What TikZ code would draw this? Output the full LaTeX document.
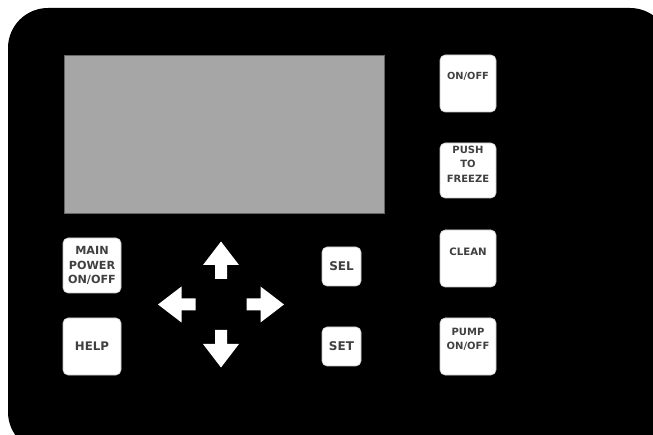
\documentclass[tikz,border=0pt]{standalone}
\usepackage{fontspec}
\setmainfont{DejaVu Sans}

\begin{document}
\begin{tikzpicture}[x=1pt, y=-1pt,
    key/.style={draw=gray!45, fill=white, rounded corners=5pt, line width=0.6pt, inner sep=0pt},
    keytext/.style={font={\bfseries\fontsize{#1}{14.5}\selectfont}, text=black!75, align=center, inner sep=0pt},
  ]
  \useasboundingbox (0,0) rectangle (653,435);
  % panel
  \fill[black, rounded corners=40pt] (8,8) rectangle (670,452);
  \node[draw=black!60, fill=black!35, line width=0.8pt, minimum width=320, minimum height=158, inner sep=0pt] (screen) at (224,134) {};

  % right column
  \node[key, minimum width=56, minimum height=57] (onoff) at (468,83.5) {};
  \node[keytext=9.8] (onoff-t) at ([yshift=7]onoff.center) {ON/OFF};
  \node[key, minimum width=56, minimum height=55] (freeze) at (468,170.5) {};
  \node[keytext=10] (freeze-t) at ([yshift=6.5]freeze.center) {PUSH\\TO\\FREEZE};
  \node[key, minimum width=56, minimum height=57] (clean) at (468,258.5) {};
  \node[keytext=10.2] (clean-t) at ([yshift=6.5]clean.center) {CLEAN};
  \node[key, minimum width=56, minimum height=57] (pump) at (468,346.5) {};
  \node[keytext=10] (pump-t) at ([yshift=7]pump.center) {PUMP\\ON/OFF};

  % left column
  \node[key, minimum width=58, minimum height=55] (power) at (92,265.5) {};
  \node[keytext=11.2] (power-t) at (power.center) {MAIN\\POWER\\ON/OFF};
  \node[key, minimum width=58, minimum height=57] (help) at (92,346.5) {};
  \node[keytext=11.8] (help-t) at (help.center) {HELP};

  % select / set
  \node[key, minimum width=39, minimum height=39] (sel) at (341.5,266.5) {};
  \node[keytext=12] (sel-t) at (sel.center) {SEL};
  \node[key, minimum width=39, minimum height=39] (set) at (341.5,346.5) {};
  \node[keytext=12] (set-t) at (set.center) {SET};

  % cursor arrows
  \foreach \ang in {0,90,180,270}
    \fill[white, shift={(221,304.5)}, rotate=\ang]
      (0,-63) -- (18,-39.5) -- (6,-39.5) -- (6,-25.5) -- (-6,-25.5) -- (-6,-39.5) -- (-18,-39.5) -- cycle;
\end{tikzpicture}
\end{document}
